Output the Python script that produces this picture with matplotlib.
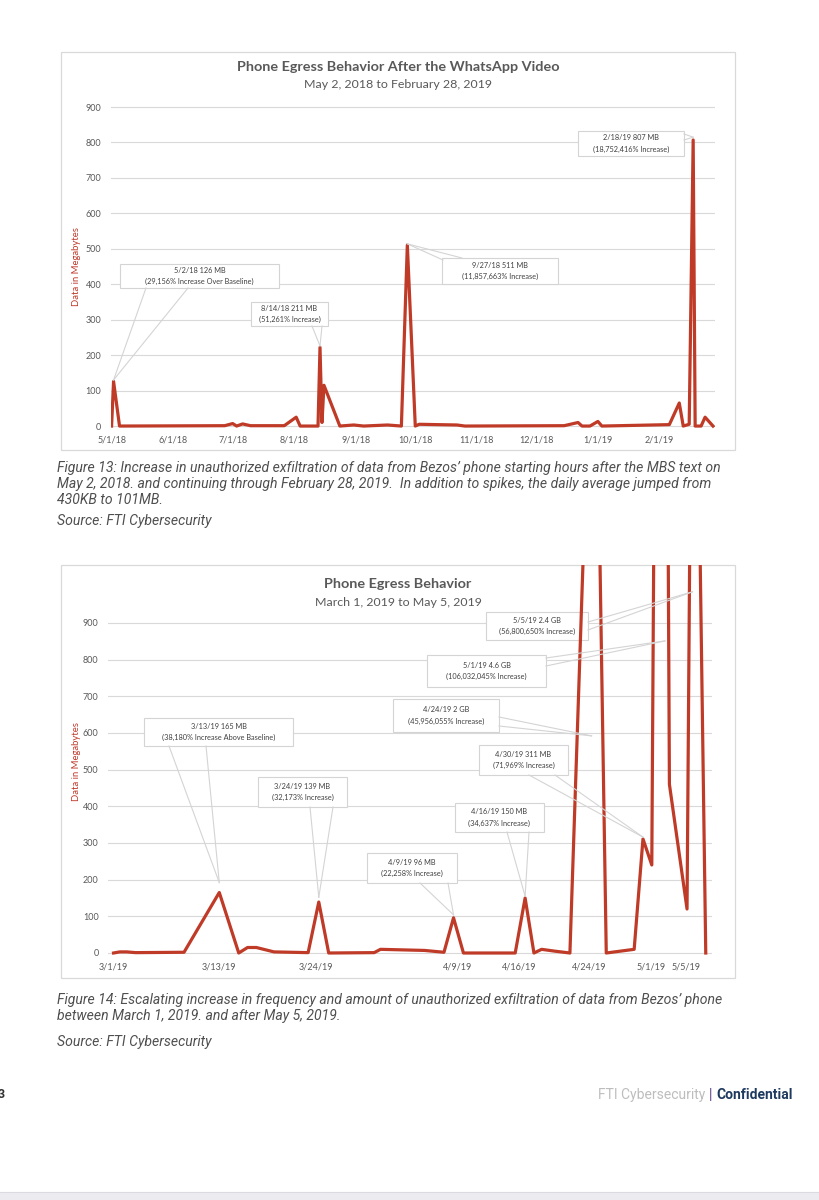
import matplotlib
matplotlib.use("Agg")
import matplotlib.pyplot as plt
import matplotlib.dates as mdates
from matplotlib.patches import Rectangle
from matplotlib.lines import Line2D
import pandas as pd

W, H = 820, 1200

# ---- Figure 13: May 2, 2018 to Feb 28, 2019 (MB) ----
f13_dates = ["2018-05-01", "2018-05-02", "2018-05-05", "2018-06-27", "2018-07-01",
             "2018-07-03", "2018-07-06", "2018-07-10", "2018-07-27", "2018-08-02",
             "2018-08-04", "2018-08-13", "2018-08-14", "2018-08-15", "2018-08-16",
             "2018-08-24", "2018-08-31", "2018-09-05", "2018-09-17", "2018-09-24",
             "2018-09-27", "2018-10-01", "2018-10-03", "2018-10-12", "2018-10-22",
             "2018-10-26", "2018-12-15", "2018-12-22", "2018-12-24", "2018-12-28",
             "2019-01-01", "2019-01-03", "2019-02-06", "2019-02-11", "2019-02-13",
             "2019-02-16", "2019-02-18", "2019-02-19", "2019-02-22", "2019-02-24",
             "2019-02-28"]
f13_mb = [0, 126, 0, 1, 7, 0, 6, 1, 1, 25, 0, 0, 222, 10, 115, 0, 3, 0, 3, 0,
          511, 0, 5, 4, 3, 0, 1, 10, 0, 0, 13, 0, 4, 65, 0, 5, 807, 0, 0, 25, 0]
f13_ticks = ["2018-05-01", "2018-06-01", "2018-07-01", "2018-08-01", "2018-09-01",
             "2018-10-01", "2018-11-01", "2018-12-01", "2019-01-01", "2019-02-01"]
f13_ticklabels = ["5/1/18", "6/1/18", "7/1/18", "8/1/18", "9/1/18", "10/1/18",
                  "11/1/18", "12/1/18", "1/1/19", "2/1/19"]

# ---- Figure 14: March 1, 2019 to May 5, 2019 (MB) ----
f14_dates = ["2019-03-01 00:00", "2019-03-01 17:00", "2019-03-02 12:00", "2019-03-03 12:00",
             "2019-03-09 00:00", "2019-03-13 00:00", "2019-03-15 05:00", "2019-03-16 05:00",
             "2019-03-17 05:00", "2019-03-19 05:00", "2019-03-23 02:00", "2019-03-24 07:00",
             "2019-03-25 10:00", "2019-03-30 14:00", "2019-03-31 07:00", "2019-04-05 07:00",
             "2019-04-07 12:00", "2019-04-08 14:00", "2019-04-09 17:00", "2019-04-15 14:00",
             "2019-04-16 17:00", "2019-04-17 17:00", "2019-04-18 14:00", "2019-04-20 02:00",
             "2019-04-21 19:00", "2019-04-24 14:00", "2019-04-25 22:00", "2019-04-29 02:00",
             "2019-04-30 02:00", "2019-05-01 02:00", "2019-05-02 05:00", "2019-05-03 02:00",
             "2019-05-05 02:00", "2019-05-05 19:00", "2019-05-07 05:00"]
f14_mb = [0, 3, 3, 1, 2, 165, 0, 15, 15, 3, 1, 139, 0, 1, 10, 7, 2, 96, 0, 0, 150, 0,
          10, 5, 0, 2000, 0, 10, 311, 240, 4600, 460, 120, 2400, 0]
f14_ticks = ["2019-03-01", "2019-03-13", "2019-03-24", "2019-04-09", "2019-04-16",
             "2019-04-24", "2019-05-01", "2019-05-05"]
f14_ticklabels = ["3/1/19", "3/13/19", "3/24/19", "4/9/19", "4/16/19", "4/24/19",
                  "5/1/19", "5/5/19"]

# callouts: text, box (px), leader starts (px), pointed-at (date, MB)
f13_notes = [
    ("5/2/18 126 MB\n(29,156% Increase Over Baseline)", (120, 264, 279, 288),
     [(146, 288), (188, 288)], ("2018-05-02", 130)),
    ("8/14/18 211 MB\n(51,261% Increase)", (251, 302, 328, 326),
     [(312, 326), (322, 326)], ("2018-08-14", 226)),
    ("9/27/18 511 MB\n(11,857,663% Increase)", (442, 258, 558, 284),
     [(443, 260), (462, 258)], ("2018-09-27", 514)),
    ("2/18/19 807 MB\n(18,752,416% Increase)", (578, 131, 684, 156),
     [(684, 134), (684, 140)], ("2019-02-18", 815)),
]
f14_notes = [
    ("3/13/19 165 MB\n(38,180% Increase Above Baseline)", (144, 718, 293, 746),
     [(169, 746), (206, 746)], ("2019-03-13", 192)),
    ("3/24/19 139 MB\n(32,173% Increase)", (258, 777, 347, 807),
     [(310, 807), (333, 807)], ("2019-03-24 07:00", 152)),
    ("4/9/19 96 MB\n(22,258% Increase)", (367, 853, 457, 883),
     [(420, 883), (448, 883)], ("2019-04-08 14:00", 104)),
    ("4/16/19 150 MB\n(34,637% Increase)", (455, 803, 544, 832),
     [(507, 832), (529, 832)], ("2019-04-16 17:00", 155)),
    ("4/30/19 311 MB\n(71,969% Increase)", (479, 745, 568, 775),
     [(529, 775), (555, 775)], ("2019-04-30 02:00", 316)),
    ("4/24/19 2 GB\n(45,956,055% Increase)", (393, 699, 499, 732),
     [(499, 717), (499, 726)], ("2019-04-24 06:00", 592)),
    ("5/1/19 4.6 GB\n(106,032,045% Increase)", (427, 655, 546, 687),
     [(546, 658), (546, 666)], ("2019-05-02 14:00", 851)),
    ("5/5/19 2.4 GB\n(56,800,650% Increase)", (486, 612, 588, 640),
     [(588, 622), (588, 630)], ("2019-05-05 17:00", 985)),
]

RED = "#BF3A27"
GREY = "#595959"
BOXC = "#D4D4D4"
CH = "Lato"

fig = plt.figure(figsize=(W / 100, H / 100), dpi=100)


def fx(x):
    return x / W


def fy(y):
    return 1 - y / H


def rect(x0, y0, x1, y1):
    return [fx(x0), fy(y1), (x1 - x0) / W, (y1 - y0) / H]


def chart(box, axbox, dates, mb, ticks, ticklabels, xlim, ylim, title, sub, ty, notes):
    fig.patches.append(Rectangle((fx(box[0]), fy(box[3])), (box[2] - box[0]) / W,
                                 (box[3] - box[1]) / H, transform=fig.transFigure,
                                 fc="white", ec="#D9D9D9", lw=0.9, zorder=-5))
    ax = fig.add_axes(rect(*axbox))
    ax.set_facecolor("none")
    x = pd.to_datetime(dates)
    ax.plot(x, mb, color=RED, lw=2.3, zorder=3)
    ax.set_xlim(pd.Timestamp(xlim[0]), pd.Timestamp(xlim[1]))
    ax.set_ylim(*ylim)
    ax.set_yticks(range(0, 1000, 100))
    ax.set_xticks(pd.to_datetime(ticks))
    ax.set_xticklabels(ticklabels)
    ax.grid(axis="y", color="#D9D9D9", lw=0.8, zorder=0)
    ax.set_axisbelow(True)
    for s in ax.spines.values():
        s.set_visible(False)
    ax.tick_params(length=0, labelsize=6.5, labelcolor=GREY, pad=7)
    for lab in ax.get_xticklabels() + ax.get_yticklabels():
        lab.set_fontfamily(CH)
    ax.tick_params(axis="x", pad=4)
    cx = (box[0] + box[2]) / 2
    fig.text(fx(cx), fy(ty), title, ha="center", va="center", fontsize=10.4,
             fontweight="bold", color=GREY, family=CH)
    fig.text(fx(cx), fy(ty + 18), sub, ha="center", va="center", fontsize=8.9,
             color=GREY, family=CH)
    fig.text(fx(box[0] + 16), fy((axbox[1] + axbox[3]) / 2), "Data in Megabytes",
             rotation=90, ha="center", va="center", fontsize=6.8, color="#C0392B", family=CH)
    inv = fig.transFigure.inverted()
    for text, b, starts, (d, v) in notes:
        ax.add_patch(Rectangle((fx(b[0]), fy(b[3])), (b[2] - b[0]) / W, (b[3] - b[1]) / H,
                               transform=fig.transFigure, fc="white", ec=BOXC, lw=0.8,
                               clip_on=False, zorder=1))
        ax.text(fx((b[0] + b[2]) / 2), fy((b[1] + b[3]) / 2), text, transform=fig.transFigure,
                ha="center", va="center", fontsize=5.3, color="#404040", family=CH,
                linespacing=1.7, zorder=2, clip_on=False)
        tx, ty2 = inv.transform(ax.transData.transform((mdates.date2num(pd.Timestamp(d)), v)))
        for sx, sy in starts:
            ax.add_line(Line2D([fx(sx), tx], [fy(sy), ty2], transform=fig.transFigure,
                               color=BOXC, lw=0.8, zorder=4, clip_on=False))
    return ax


chart((61, 52, 735, 450), (111, 103.5, 715, 430.3), f13_dates, f13_mb, f13_ticks,
      f13_ticklabels, ("2018-04-30 17:00", "2019-03-01 00:00"), (-12, 910),
      "Phone Egress Behavior After the WhatsApp Video", "May 2, 2018 to February 28, 2019",
      67, f13_notes)
chart((61, 565, 735, 978), (108.4, 565, 712, 957.4), f14_dates, f14_mb, f14_ticks,
      f14_ticklabels, ("2019-02-28 10:00", "2019-05-07 22:00"), (-12, 1058),
      "Phone Egress Behavior", "March 1, 2019 to May 5, 2019", 584, f14_notes)

# captions
CAP = dict(ha="left", va="center", fontsize=10.1, style="italic", color="#4F4F4F",
           family="Roboto")
cap13 = ["Figure 13: Increase in unauthorized exfiltration of data from Bezos\u2019 phone starting hours after the MBS text on",
         "May 2, 2018. and continuing through February 28, 2019.  In addition to spikes, the daily average jumped from",
         "430KB to 101MB."]
cap14 = ["Figure 14: Escalating increase in frequency and amount of unauthorized exfiltration of data from Bezos\u2019 phone",
         "between March 1, 2019. and after May 5, 2019."]
for i, line in enumerate(cap13):
    fig.text(fx(57), fy(468 + 16 * i), line, **CAP)
fig.text(fx(57), fy(521), "Source: FTI Cybersecurity", **CAP)
for i, line in enumerate(cap14):
    fig.text(fx(57), fy(1000 + 16 * i), line, **CAP)
fig.text(fx(57), fy(1042), "Source: FTI Cybersecurity", **CAP)

# footer
fig.text(fx(-2), fy(1095), "3", ha="left", va="center", fontsize=9, fontweight="bold",
         color="#333333", family="Roboto")
fig.canvas.draw()
r = fig.canvas.get_renderer()
t3 = fig.text(fx(793), fy(1095), "Confidential", ha="right", va="center", fontsize=10,
              fontweight="bold", color="#1F3A5F", family="Roboto")
x3 = t3.get_window_extent(r).x0
t2 = fig.text((x3 - 4) / W, fy(1095), "|", ha="right", va="center", fontsize=10,
              fontweight="bold", color="#6A4C93", family="Roboto")
x2 = t2.get_window_extent(r).x0
fig.text((x2 - 4) / W, fy(1095), "FTI Cybersecurity", ha="right", va="center", fontsize=10,
         color="#BDBDBD", family="Roboto")

fig.patches.append(Rectangle((0, 0), 1, 8 / H, transform=fig.transFigure, fc="#ECECF0",
                             ec="none", zorder=-6))
fig.lines.append(Line2D([0, 1], [8 / H, 8 / H], transform=fig.transFigure, color="#DADAE0", lw=0.8))

fig.savefig("out.png", dpi=100)
